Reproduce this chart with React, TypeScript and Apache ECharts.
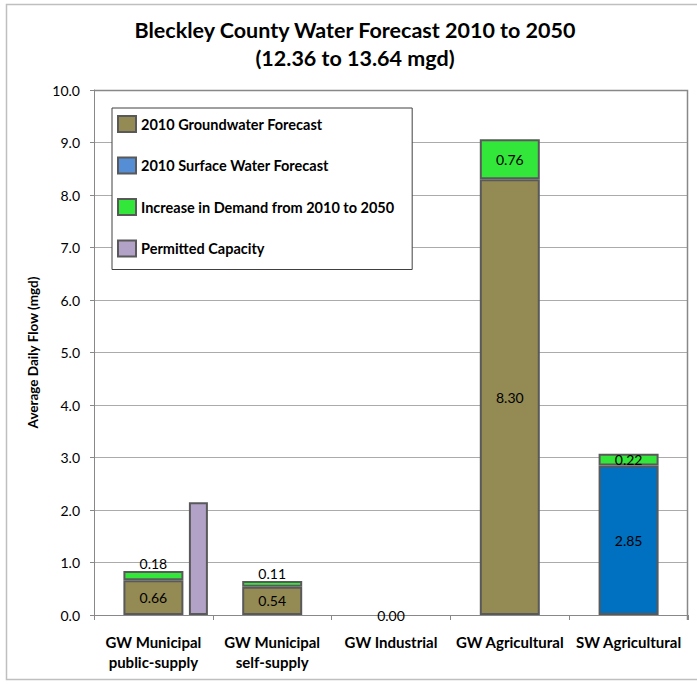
import React, { useEffect, useRef } from "react";
import * as echarts from "echarts";

const categories = [
  "GW Municipal\npublic-supply",
  "GW Municipal\nself-supply",
  "GW Industrial",
  "GW Agricultural",
  "SW Agricultural",
];
const groundwater2010: (number | string)[] = [0.66, 0.54, 0.0, 8.3, "-"];
const surfaceWater2010: (number | string)[] = ["-", "-", "-", "-", 2.85];
const demandIncrease: (number | string)[] = [0.18, 0.11, "-", 0.76, 0.22];
const permittedCapacity: (number | string)[] = [2.15, "-", "-", "-", "-"];
const yTicks = [0, 1, 2, 3, 4, 5, 6, 7, 8, 9, 10];

const FONT = "Lato, 'Open Sans', sans-serif";
const BORDER = "#595959";
const W = 697;
const H = 685;
const GRID = { left: 94, right: 9, top: 90, bottom: 70 };

export default function App() {
  const ref = useRef<HTMLDivElement>(null);

  useEffect(() => {
    if (!ref.current) return;
    const chart = echarts.init(ref.current, undefined, { renderer: "svg" });

    const fmt = (p: any) => Number(p.value).toFixed(2);
    const labelBase = {
      show: true,
      position: "inside",
      formatter: fmt,
      color: "#000",
      fontSize: 14,
      fontFamily: FONT,
    };
    const barStyle = (color: string) => ({
      color,
      borderColor: BORDER,
      borderWidth: 2,
    });
    // zero-height bars keep their label but draw no outline
    const groundData = groundwater2010.map((v) =>
      v === 0 ? { value: v, itemStyle: { borderWidth: 0 } } : v
    );
    // small increments get their label lifted above the segment
    const increaseData = demandIncrease.map((v) =>
      typeof v === "number" && v < 0.2
        ? { value: v, label: { position: "top", distance: 0 } }
        : v
    );

    const gx0 = GRID.left;
    const gy0 = GRID.top;
    const gx1 = W - GRID.right;
    const gy1 = H - GRID.bottom;

    const titleStyle = {
      fontSize: 21.5,
      fontWeight: "bold",
      fontFamily: FONT,
      fill: "#000",
      align: "center",
      verticalAlign: "middle",
    };

    chart.setOption({
      animation: false,
      backgroundColor: "#fff",
      textStyle: { fontFamily: FONT },
      graphic: [
        {
          type: "rect",
          shape: { x: 6.5, y: 4.5, width: 720, height: 675 },
          style: { fill: "none", stroke: "#BFBFBF", lineWidth: 1.5 },
          silent: true,
          z: -1,
        },
        {
          // plot-area frame: top and right edges
          type: "polyline",
          shape: {
            points: [
              [gx0, gy0 + 0.5],
              [gx1 - 0.5, gy0 + 0.5],
              [gx1 - 0.5, gy1 + 5],
            ],
          },
          style: { fill: "none", stroke: "#888", lineWidth: 1.5 },
          silent: true,
          z: 5,
        },
        {
          type: "text",
          x: 355,
          y: 30,
          style: { ...titleStyle, text: "Bleckley County Water Forecast 2010 to 2050" },
        },
        {
          type: "text",
          x: 355,
          y: 58,
          style: { ...titleStyle, text: "(12.36 to 13.64 mgd)" },
        },
      ],
      legend: {
        data: [
          "2010 Groundwater Forecast",
          { name: "2010 Surface Water Forecast", itemStyle: { color: "#558ED5" } },
          "Increase in Demand from 2010 to 2050",
          "Permitted Capacity",
        ],
        orient: "vertical",
        left: 112,
        top: 108,
        padding: [7, 18, 12, 5],
        itemGap: 23.5,
        itemWidth: 18,
        itemHeight: 16,
        icon: "rect",
        backgroundColor: "#fff",
        borderColor: "#404040",
        borderWidth: 1,
        textStyle: { fontSize: 14.5, fontWeight: "bold", color: "#000", fontFamily: FONT },
        itemStyle: { borderColor: BORDER, borderWidth: 2 },
        selectedMode: false,
      },
      grid: GRID,
      xAxis: [
        {
          type: "category",
          data: categories,
          axisLine: { lineStyle: { color: "#888", width: 1 } },
          axisTick: { show: true, length: 5, lineStyle: { color: "#888" } },
          axisLabel: {
            color: "#000",
            fontSize: 15,
            fontWeight: "bold",
            fontFamily: FONT,
            lineHeight: 20,
            margin: 17,
            interval: 0,
          },
        },
        {
          type: "category",
          data: categories,
          show: false,
        },
      ],
      yAxis: {
        type: "value",
        min: yTicks[0],
        max: yTicks[yTicks.length - 1],
        interval: 1,
        name: "Average Daily Flow (mgd)",
        nameLocation: "middle",
        nameGap: 54,
        nameTextStyle: { fontSize: 13.5, fontWeight: "bold", color: "#000", fontFamily: FONT },
        axisLine: { show: true, lineStyle: { color: "#888", width: 1 } },
        axisTick: { show: true, length: 4, lineStyle: { color: "#888" } },
        axisLabel: {
          color: "#000",
          fontSize: 14,
          fontFamily: FONT,
          margin: 14,
          formatter: (v: number) => v.toFixed(1),
        },
        splitLine: { show: true, lineStyle: { color: "#ABABAB", width: 1 } },
      },
      series: [
        {
          name: "2010 Groundwater Forecast",
          type: "bar",
          stack: "forecast",
          barWidth: 60,
          data: groundData,
          itemStyle: barStyle("#948A54"),
          label: labelBase,
        },
        {
          name: "2010 Surface Water Forecast",
          type: "bar",
          stack: "forecast",
          barWidth: 60,
          data: surfaceWater2010,
          itemStyle: barStyle("#0070C0"),
          label: labelBase,
        },
        {
          name: "Increase in Demand from 2010 to 2050",
          type: "bar",
          stack: "forecast",
          barWidth: 60,
          data: increaseData,
          itemStyle: barStyle("#33E63A"),
          label: labelBase,
        },
        {
          // empty spacer keeps the capacity bar to the right of the stack
          name: "spacer",
          type: "bar",
          xAxisIndex: 1,
          barWidth: 90,
          barGap: "0%",
          data: categories.map(() => "-"),
          itemStyle: { color: "transparent" },
          silent: true,
        },
        {
          name: "Permitted Capacity",
          type: "bar",
          xAxisIndex: 1,
          barWidth: 19,
          barGap: "0%",
          data: permittedCapacity,
          itemStyle: barStyle("#B3A2C7"),
        },
      ],
    });

    return () => chart.dispose();
  }, []);

  return (
    <div
      ref={ref}
      style={{ position: "fixed", left: 0, top: 0, width: W, height: H, background: "#fff" }}
    />
  );
}
